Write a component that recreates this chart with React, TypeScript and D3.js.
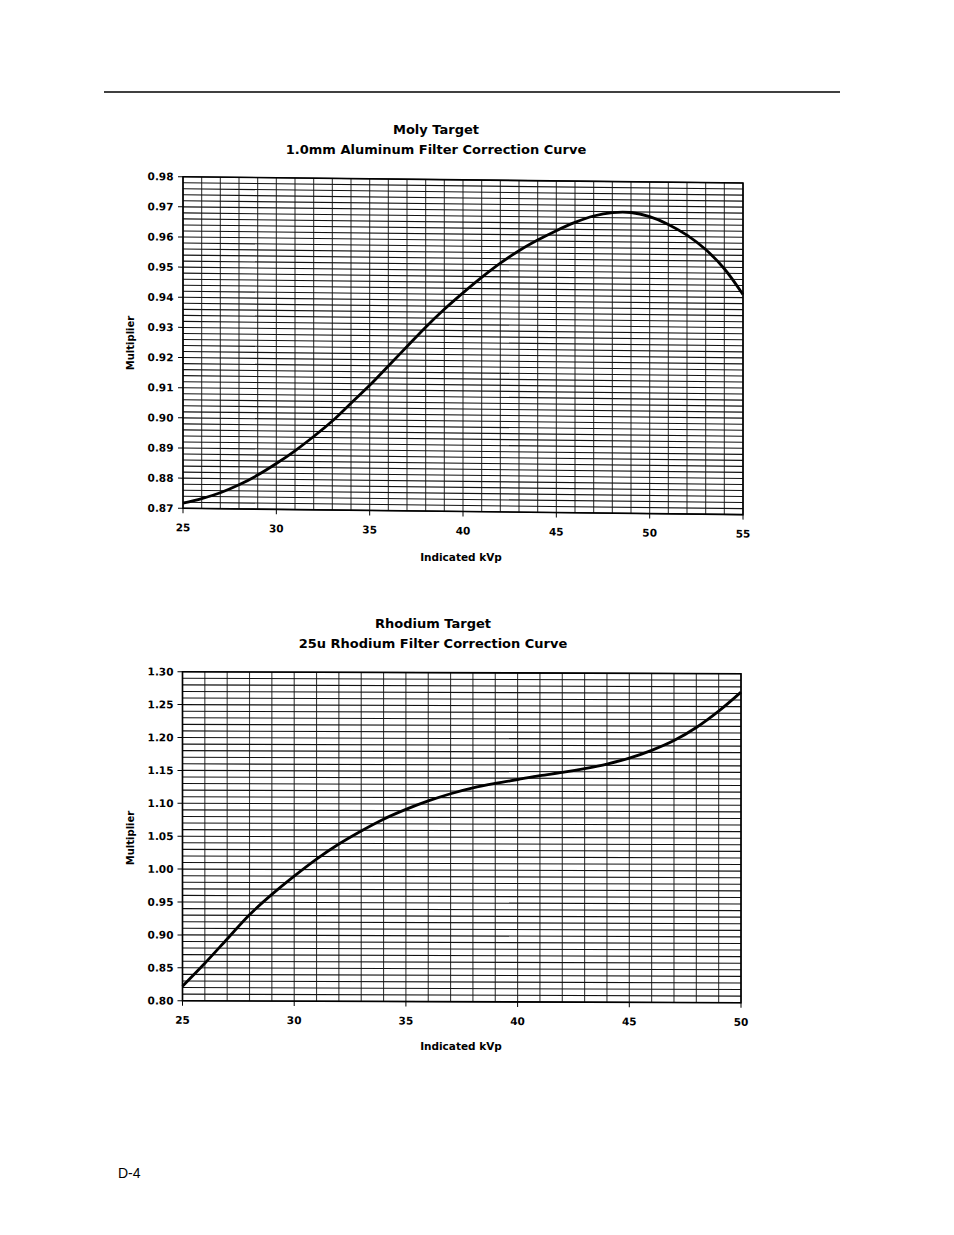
import React from 'react';
import * as d3 from 'd3';

// ---- Data ----
const molyKvp = [25, 26, 27, 28, 29, 30, 31, 32, 33, 34, 35, 36, 37, 38, 39, 40, 41, 42, 43, 44, 45, 46, 47, 48, 49, 50, 51, 52, 53, 54, 55];
const molyMultiplier = [0.8717, 0.8733, 0.8753, 0.878, 0.8813, 0.8852, 0.8895, 0.8943, 0.8995, 0.9055, 0.9115, 0.918, 0.9245, 0.931, 0.937, 0.9425, 0.9477, 0.9525, 0.9567, 0.9603, 0.9635, 0.9663, 0.9685, 0.9697, 0.9698, 0.9685, 0.966, 0.9625, 0.9578, 0.9515, 0.943];
const molyYTicks = [0.87, 0.88, 0.89, 0.9, 0.91, 0.92, 0.93, 0.94, 0.95, 0.96, 0.97, 0.98];
const molyXTicks = [25, 30, 35, 40, 45, 50, 55];

const rhKvp = [25, 26, 27, 28, 29, 30, 31, 32, 33, 34, 35, 36, 37, 38, 39, 40, 41, 42, 43, 44, 45, 46, 47, 48, 49, 50];
const rhMultiplier = [0.822, 0.857, 0.894, 0.931, 0.962, 0.99, 1.016, 1.039, 1.059, 1.077, 1.092, 1.105, 1.116, 1.125, 1.132, 1.138, 1.144, 1.149, 1.155, 1.162, 1.171, 1.183, 1.198, 1.218, 1.243, 1.272];
const rhYTicks = [0.8, 0.85, 0.9, 0.95, 1.0, 1.05, 1.1, 1.15, 1.2, 1.25, 1.3];
const rhXTicks = [25, 30, 35, 40, 45, 50];

const FONT = "'DejaVu Sans', 'Liberation Sans', Arial, sans-serif";

type ChartProps = {
  left: number; right: number; top: number; bottom: number;
  xDomain: [number, number]; yDomain: [number, number];
  xTicks: number[]; yTicks: number[]; yMinorStep: number; xMinorStep: number;
  xs: number[]; ys: number[];
  skew: number;
  title1: string; title2: string; titleX: number; titleY: number;
  xTitleY: number; yTitleY: number;
};

function Chart(p: ChartProps) {
  const x = d3.scaleLinear().domain(p.xDomain).range([p.left, p.right]);
  const y = d3.scaleLinear().domain(p.yDomain).range([p.bottom, p.top]);
  const nH = Math.round((p.yDomain[1] - p.yDomain[0]) / p.yMinorStep);
  const nV = Math.round((p.xDomain[1] - p.xDomain[0]) / p.xMinorStep);
  const hLines = d3.range(nH + 1).map(i => p.yDomain[0] + i * p.yMinorStep);
  const vLines = d3.range(nV + 1).map(i => p.xDomain[0] + i * p.xMinorStep);
  const pts: [number, number][] = p.xs.map((v, i) => [v, p.ys[i]]);
  const line = d3.line<[number, number]>()
    .x(d => x(d[0])).y(d => y(d[1]))
    .curve(d3.curveCatmullRom.alpha(0.5));
  const angle = Math.atan(p.skew) * 180 / Math.PI;
  const tr = `translate(0, ${-p.skew * p.left}) skewY(${angle})`;
  return (
    <g>
      <text x={p.titleX} y={p.titleY} textAnchor="middle" fontFamily={FONT} fontWeight="bold" fontSize={13}>{p.title1}</text>
      <text x={p.titleX} y={p.titleY + 20} textAnchor="middle" fontFamily={FONT} fontWeight="bold" fontSize={13}>{p.title2}</text>
      <text transform={`translate(134, ${p.yTitleY}) rotate(-90)`} textAnchor="middle" fontFamily={FONT} fontWeight="bold" fontSize={10}>Multiplier</text>
      <text x={461} y={p.xTitleY} textAnchor="middle" fontFamily={FONT} fontWeight="bold" fontSize={10.5}>Indicated kVp</text>
      <g transform={tr}>
        {vLines.map((v, i) => (
          <line key={'v' + i} x1={x(v)} x2={x(v)} y1={p.top} y2={p.bottom} stroke="#3a3a3a" strokeWidth={1.1} />
        ))}
        {hLines.map((v, i) => (
          <line key={'h' + i} x1={p.left} x2={p.right} y1={y(v)} y2={y(v)} stroke="#111" strokeWidth={1.1} />
        ))}
        <rect x={p.left} y={p.top} width={p.right - p.left} height={p.bottom - p.top} fill="none" stroke="#000" strokeWidth={1.6} />
        {p.yTicks.map((t, i) => (
          <g key={'yt' + i}>
            <line x1={p.left - 5} x2={p.left} y1={y(t)} y2={y(t)} stroke="#000" strokeWidth={1} />
            <text x={173.5} y={y(t) + 3.8} textAnchor="end" fontFamily={FONT} fontWeight="bold" fontSize={10.5}>{t.toFixed(2)}</text>
          </g>
        ))}
        {p.xTicks.map((t, i) => (
          <g key={'xt' + i}>
            <line x1={x(t)} x2={x(t)} y1={p.bottom} y2={p.bottom + 5} stroke="#000" strokeWidth={1} />
            <text x={x(t)} y={p.bottom + 23} textAnchor="middle" fontFamily={FONT} fontWeight="bold" fontSize={10.5}>{t}</text>
          </g>
        ))}
        <path d={line(pts) || ''} fill="none" stroke="#000" strokeWidth={2.8} />
      </g>
    </g>
  );
}

export default function App() {
  return (
    <svg width={954} height={1235} style={{ position: 'absolute', left: 0, top: 0, background: '#fff' }}>
      <rect x={0} y={0} width={954} height={1235} fill="#fff" />
      <line x1={104} x2={840} y1={92} y2={92} stroke="#000" strokeWidth={1.6} />
      <Chart
        left={183} right={743} top={176.7} bottom={508.3}
        xDomain={[25, 55]} yDomain={[0.87, 0.98]}
        xTicks={molyXTicks} yTicks={molyYTicks} yMinorStep={0.002} xMinorStep={1}
        xs={molyKvp} ys={molyMultiplier} skew={0.0113}
        title1="Moly Target" title2="1.0mm Aluminum Filter Correction Curve" titleX={436} titleY={134}
        xTitleY={561} yTitleY={343}
      />
      <Chart
        left={182.5} right={741} top={671.7} bottom={1000.7}
        xDomain={[25, 50]} yDomain={[0.8, 1.3]}
        xTicks={rhXTicks} yTicks={rhYTicks} yMinorStep={0.01} xMinorStep={1}
        xs={rhKvp} ys={rhMultiplier} skew={0.0036}
        title1="Rhodium Target" title2="25u Rhodium Filter Correction Curve" titleX={433} titleY={628}
        xTitleY={1050} yTitleY={838}
      />
      <text x={118} y={1178} fontFamily="'Liberation Sans', Arial, sans-serif" fontSize={14}>D-4</text>
    </svg>
  );
}
